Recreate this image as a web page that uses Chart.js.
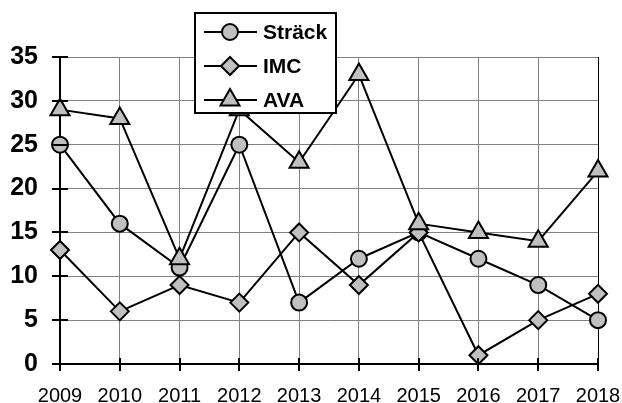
<!DOCTYPE html>
<html>
<head>
<meta charset="utf-8">
<script src="https://cdn.jsdelivr.net/npm/chart.js@4.4.1/dist/chart.umd.min.js"></script>
<style>
html,body{margin:0;padding:0;background:#fff;}
#wrap{width:622px;height:403px;position:relative;}
</style>
</head>
<body>
<div id="wrap"><canvas id="c" width="622" height="403"></canvas></div>
<script>
const categories = ['2009','2010','2011','2012','2013','2014','2015','2016','2017','2018'];
const strack = [25, 16, 11, 25, 7, 12, 15, 12, 9, 5];
const imc    = [13, 6, 9, 7, 15, 9, 15, 1, 5, 8];
const ava    = [29, 28, 12, 29, 23, 33, 16, 15, 14, 22];
const seriesNames = ['Sträck', 'IMC', 'AVA'];
const yMin = 0, yMax = 35, yStep = 5;

const FILL = '#c0c0c0';
const FONT = "Arial, 'Liberation Sans', Helvetica, sans-serif";

function mkSet(label, data, style, radius, order) {
  return {
    label, data, order,
    borderColor: '#000', borderWidth: 2, tension: 0,
    pointStyle: style, pointRadius: radius, pointHoverRadius: radius,
    pointBackgroundColor: FILL, pointBorderColor: '#000', pointBorderWidth: 2,
    fill: false
  };
}

function drawMarker(ctx, style, r, x, y) {
  ctx.beginPath();
  if (style === 'circle') {
    ctx.arc(x, y, r, 0, Math.PI * 2);
  } else if (style === 'rectRot') {
    ctx.moveTo(x, y - r); ctx.lineTo(x + r, y); ctx.lineTo(x, y + r); ctx.lineTo(x - r, y);
    ctx.closePath();
  } else if (style === 'triangle') {
    const a = 2 * Math.PI / 3;
    ctx.moveTo(x, y - r);
    ctx.lineTo(x + Math.sin(a) * r, y - Math.cos(a) * r);
    ctx.lineTo(x + Math.sin(2 * a) * r, y - Math.cos(2 * a) * r);
    ctx.closePath();
  }
  ctx.fillStyle = FILL; ctx.fill();
  ctx.strokeStyle = '#000'; ctx.lineWidth = 2; ctx.stroke();
}

const extras = {
  id: 'extras',
  afterDraw(chart) {
    const {ctx, chartArea: a, scales: {x, y}} = chart;
    ctx.save();
    ctx.strokeStyle = '#000'; ctx.lineWidth = 2;
    y.ticks.forEach((t, i) => {
      const py = Math.round(y.getPixelForTick(i));
      ctx.beginPath(); ctx.moveTo(a.left - 8, py); ctx.lineTo(a.left + 8, py); ctx.stroke();
    });
    x.ticks.forEach((t, i) => {
      const px = Math.round(x.getPixelForTick(i));
      ctx.beginPath(); ctx.moveTo(px, a.bottom - 6); ctx.lineTo(px, a.bottom + 7); ctx.stroke();
    });
    // legend box
    const bx = 195, by = 13, bw = 141, bh = 100;
    ctx.fillStyle = '#fff';
    ctx.fillRect(bx, by, bw, bh);
    ctx.lineWidth = 2; ctx.strokeStyle = '#000';
    ctx.strokeRect(bx, by, bw, bh);
    const rowY = [32, 66, 100];
    chart.data.datasets.forEach((ds, i) => {
      const ry = rowY[i];
      ctx.beginPath(); ctx.moveTo(204, ry); ctx.lineTo(257, ry);
      ctx.strokeStyle = '#000'; ctx.lineWidth = 2; ctx.stroke();
      drawMarker(ctx, ds.pointStyle, ds.pointRadius, 230, ry);
      ctx.fillStyle = '#000';
      ctx.font = 'bold 21px ' + FONT;
      ctx.textAlign = 'left'; ctx.textBaseline = 'middle';
      ctx.fillText(ds.label, 263, ry + 1);
    });
    ctx.restore();
  }
};

new Chart(document.getElementById('c'), {
  type: 'line',
  data: {
    labels: categories,
    datasets: [
      mkSet(seriesNames[0], strack, 'circle', 8, 2),
      mkSet(seriesNames[1], imc, 'rectRot', 9, 1),
      mkSet(seriesNames[2], ava, 'triangle', 11, 0)
    ]
  },
  options: {
    responsive: false,
    animation: false,
    events: [],
    layout: { padding: { left: 0, right: 24, top: 57, bottom: 0 } },
    plugins: { legend: { display: false }, tooltip: { enabled: false } },
    scales: {
      x: {
        offset: false,
        grid: {
          color: (c) => c.index === categories.length - 1 ? '#000' : '#808080',
          lineWidth: 1, drawTicks: false
        },
        border: { color: '#000', width: 2 },
        ticks: { color: '#000', font: { family: FONT, size: 20 }, padding: 20, maxRotation: 0, autoSkip: false },
        afterFit(s) { s.height = 39; s.paddingLeft = 0; s.paddingRight = 0; }
      },
      y: {
        min: yMin, max: yMax,
        grid: { color: '#808080', lineWidth: 1, drawTicks: false },
        border: { color: '#000', width: 2 },
        ticks: { stepSize: yStep, color: '#000', font: { family: FONT, size: 25, weight: 'bold' }, padding: 22 },
        afterFit(s) { s.width = 60; s.paddingTop = 0; s.paddingBottom = 0; }
      }
    }
  },
  plugins: [extras]
});
</script>
</body>
</html>
